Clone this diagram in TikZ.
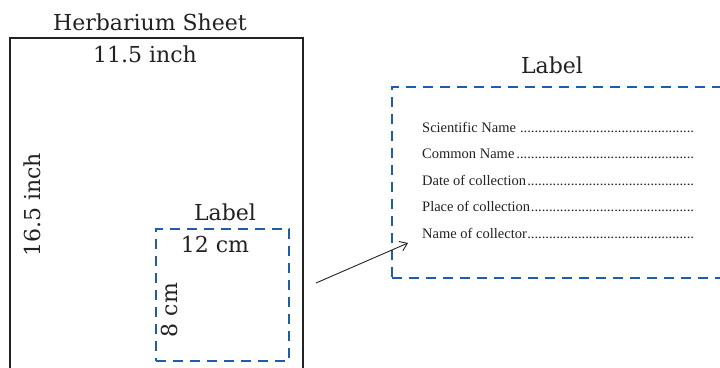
\documentclass[tikz,border=0pt]{standalone}
\usepackage{fontspec}
\setmainfont{DejaVu Serif}
\newfontfamily\formfont{Liberation Serif}
\usetikzlibrary{positioning,arrows.meta}
\definecolor{labelblue}{HTML}{1F5DA8}
\definecolor{inkgray}{HTML}{222222}
\tikzset{
  sheetbox/.style={draw=inkgray,line width=2.2pt,minimum width=293pt,minimum height=362pt,inner sep=0pt},
  labelbox/.style={draw=labelblue,line width=2.6pt,dash pattern=on 10pt off 7pt,inner sep=0pt},
  caption/.style={text=inkgray,font=\fontsize{22}{24}\selectfont,inner sep=0pt},
  formline/.style={text=inkgray,font=\formfont\fontsize{14.5}{16}\selectfont,anchor=west,inner sep=0pt}
}
\newcommand{\formfield}[1]{\makebox[274pt][l]{#1\leaders\hbox{.}\hfill}}
\begin{document}
\begin{tikzpicture}[x=1pt,y=-1pt]
  \useasboundingbox (0,0) rectangle (720,367);
  \clip (0,0) rectangle (720,367);
  %Herbarium sheet
  \node[sheetbox] (sheet) at (156.5,219) {};
  \node[caption] (sheettitle) at (150,22) {Herbarium Sheet};
  \node[caption] (sheetwidth) at (145,54) {11.5 inch};
  \node[caption,rotate=90] (sheetheight) at (32,205) {16.5 inch};
  %Label on the sheet
  \node[labelbox,minimum width=133pt,minimum height=132pt] (smalllabel) at (222.5,295) {};
  \node[caption] (smalltitle) at (225,212) {Label};
  \node[caption] (labelwidth) at (215,244) {12 cm};
  \node[caption,rotate=90] (labelheight) at (169,310) {8 cm};
  %Label enlarged
  \node[labelbox,minimum width=350pt,minimum height=191pt] (biglabel) at (567,182.5) {};
  \node[caption] (bigtitle) at (552,65) {Label};
  \foreach \i/\txt in {1/Scientific Name\ ,2/Common Name,3/Date of collection,4/Place of collection,5/Name of collector}
    \node[formline] (field\i) at (422,{127+26.6*(\i-1)}) {\formfield{\txt}};
  %Arrow
  \coordinate (arrowstart) at (316,283);
  \coordinate (arrowend) at (408,243);
  \draw[-{Straight Barb[length=7pt,width=10pt]},inkgray,line width=0.9pt] (arrowstart) -- (arrowend);
\end{tikzpicture}
\end{document}
